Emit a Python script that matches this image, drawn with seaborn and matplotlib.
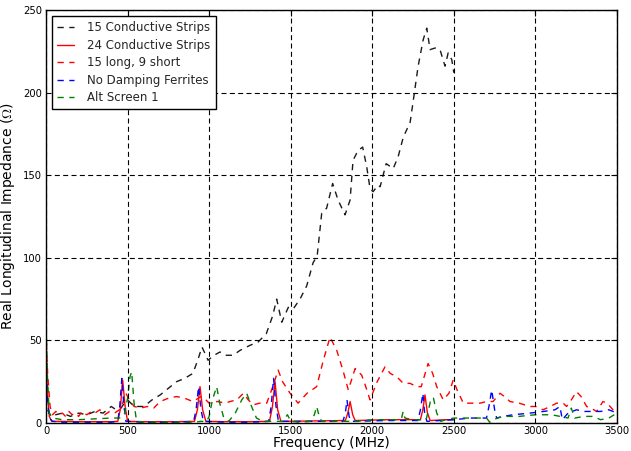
import matplotlib
matplotlib.use("Agg")
import matplotlib.pyplot as plt
import seaborn as sns
import numpy as np

# ---------------- data ----------------
f_black = [0, 10, 30, 60, 100, 150, 200, 250, 300, 350, 400, 430, 460, 480, 500, 530, 560, 600, 650,
           700, 750, 800, 850, 900, 930, 956, 975, 993, 1030, 1067, 1100, 1146, 1190, 1250, 1300, 1350,
           1390, 1414, 1445, 1485, 1515, 1557, 1598, 1637, 1662, 1690, 1720, 1757, 1790, 1833, 1864,
           1882, 1913, 1941, 1966, 1986, 2005, 2035, 2048, 2085, 2128, 2158, 2190, 2232, 2251, 2281,
           2312, 2334, 2354, 2385, 2415, 2446, 2465, 2487, 2500]
z_black = [15, 8, 4, 5, 6, 4, 6, 5, 7, 6, 10, 8, 9, 12, 14, 11, 10, 10, 14,
           17, 21, 25, 27, 30, 38, 46, 42, 38, 41, 43, 41, 41, 44, 47, 49, 54,
           65, 75, 61, 70, 69, 75, 83, 97, 101, 127, 130, 145, 135, 126, 135,
           159, 165, 167, 155, 142, 140, 144, 143, 157, 154, 161, 173, 182, 195, 216,
           232, 239, 226, 227, 226, 216, 224, 220, 212]

f_red_solid = [0, 8, 20, 35, 100, 200, 300, 400, 440, 455, 470, 485, 500, 600, 800, 910, 928, 944,
               960, 980, 1100, 1250, 1370, 1388, 1404, 1420, 1440, 1600, 1835, 1850, 1864, 1880,
               1895, 2100, 2295, 2310, 2323, 2338, 2355, 2450, 2500]
z_red_solid = [48, 20, 4, 1, 1, 0.8, 0.8, 0.8, 1, 8, 26, 10, 1, 0.8, 0.8, 1, 8, 22,
               8, 1, 0.8, 0.8, 1, 10, 25, 8, 1, 1.2, 1.5, 6, 13, 5,
               1.5, 2, 2, 8, 17, 6, 1.5, 2, 2]

f_red_dash = [0, 10, 25, 40, 60, 80, 100, 120, 140, 160, 180, 200, 220, 250, 280, 300, 330, 360, 390,
              420, 450, 470, 490, 510, 540, 580, 620, 660, 700, 750, 800, 850, 900, 950, 980, 1000,
              1050, 1100, 1128, 1170, 1210, 1240, 1270, 1310, 1353, 1390, 1423, 1450, 1496, 1545,
              1600, 1659, 1700, 1741, 1782, 1820, 1853, 1895, 1935, 1960, 1986, 2030, 2078, 2110,
              2150, 2190, 2232, 2270, 2300, 2342, 2370, 2395, 2435, 2470, 2496, 2520, 2558, 2600,
              2660, 2701, 2740, 2783, 2810, 2844, 2900, 2967, 3000, 3047, 3090, 3130, 3170, 3191,
              3220, 3252, 3280, 3314, 3340, 3375, 3414, 3440, 3475, 3500]
z_red_dash = [55, 30, 10, 5, 7, 5, 6, 4, 7, 5, 6, 4, 7, 5, 7, 6, 8, 5, 7,
              6, 8, 12, 18, 14, 10, 9, 10, 9, 13, 15, 16, 15, 13, 16, 14, 12,
              13, 12, 13, 14, 18, 14, 11, 12, 12, 22, 32, 25, 18, 12,
              18, 22, 38, 52, 44, 32, 20, 33, 29, 22, 14, 25, 34, 30,
              28, 24, 24, 22, 22, 36, 30, 22, 14, 18, 26, 20, 12, 12,
              12, 13, 13, 18, 16, 13, 12, 10, 10, 8, 10, 12, 12, 10,
              14, 19, 16, 10, 9, 7, 13, 12, 8, 6]

f_blue = [0, 8, 20, 40, 100, 200, 300, 400, 440, 452, 465, 478, 490, 600, 800, 905, 920, 935, 950,
          965, 1100, 1250, 1365, 1380, 1395, 1410, 1425, 1600, 1820, 1835, 1845, 1858, 1870, 2100,
          2280, 2295, 2310, 2322, 2335, 2500, 2600, 2700, 2715, 2732, 2750, 2762, 2800, 2865, 2967,
          3050, 3120, 3150, 3165, 3200, 3252, 3300, 3350, 3400, 3450, 3500]
z_blue = [45, 15, 3, 1, 0.5, 0.5, 0.5, 0.5, 1, 10, 27, 10, 1, 0.5, 0.5, 1, 8, 22, 8,
          1, 0.5, 0.5, 1, 10, 27, 10, 1, 1, 1, 6, 14, 4, 1, 1.5,
          1.5, 8, 18, 5, 1, 2, 3, 3, 10, 20, 8, 3, 4, 5, 6,
          7, 8, 10, 2, 6, 8, 7, 7, 7, 8, 6]

f_green = [0, 8, 20, 40, 100, 200, 300, 400, 450, 480, 500, 515, 525, 540, 555, 600, 700, 800, 900,
           950, 985, 1000, 1020, 1046, 1065, 1090, 1120, 1160, 1200, 1230, 1260, 1290, 1330, 1400,
           1450, 1480, 1500, 1550, 1620, 1645, 1659, 1675, 1690, 1800, 1900, 2000, 2150, 2180, 2189,
           2200, 2250, 2330, 2345, 2360, 2375, 2395, 2420, 2450, 2500, 2600, 2700, 2720, 2740, 2800,
           2900, 3000, 3100, 3150, 3200, 3220, 3240, 3300, 3350, 3400, 3450, 3500]
z_green = [65, 30, 6, 3, 2, 2, 2.5, 3, 3, 5, 15, 28, 31, 12, 1, 0.5, 0.5, 0.5, 0.5,
           1, 1, 4, 14, 22, 12, 3, 1, 6, 14, 18, 10, 3, 1, 1,
           1, 5, 1, 0.5, 1, 5, 10, 4, 1, 1, 1, 2, 2, 3, 7,
           3, 2, 2, 8, 15, 15, 6, 1, 2, 3, 3, 3, 0.5, 2, 4,
           4, 5, 5, 4, 3, 9, 3, 4, 4, 2, 3, 6]

labels = ["15 Conductive Strips", "24 Conductive Strips", "15 long, 9 short",
          "No Damping Ferrites", "Alt Screen 1"]
x_ticks = [0, 500, 1000, 1500, 2000, 2500, 3000, 3500]
y_ticks = [0, 50, 100, 150, 200, 250]

# ---------------- style ----------------
sns.set_theme(style="white")
plt.rcParams['font.family'] = ['DejaVu Sans']
plt.rcParams['mathtext.fontset'] = 'cm'
plt.rcParams['lines.dashed_pattern'] = [4.5, 4.0]

fig = plt.figure(figsize=(6.31, 4.51), dpi=100)
ax = fig.add_axes([46 / 631, 1 - 423 / 451, (617 - 46) / 631, (423 - 10) / 451])

series = [
    (f_black, z_black, "k", "--"),
    (f_red_solid, z_red_solid, "#ff0000", "-"),
    (f_red_dash, z_red_dash, "#ff0000", "--"),
    (f_blue, z_blue, "#0000ff", "--"),
    (f_green, z_green, "#008000", "--"),
]
for (fx, zy, c, ls), lab in zip(series, labels):
    sns.lineplot(x=fx, y=zy, ax=ax, color=c, linestyle=ls, linewidth=1.0,
                 label=lab, estimator=None, sort=False)

ax.set_xlim(0, 3500)
ax.set_ylim(0, 250)
ax.set_xticks(x_ticks)
ax.set_yticks(y_ticks)
ax.tick_params(direction="in", length=4, width=0.8, top=True, right=True,
               labelsize=7.2, colors="black")
ax.tick_params(axis="x", pad=2)
ax.tick_params(axis="y", pad=3)
for s in ax.spines.values():
    s.set_visible(True)
    s.set_color("black")
    s.set_linewidth(1.0)
ax.grid(True, color="black", linestyle=(0, (4.5, 3.0)), linewidth=0.8)
ax.set_axisbelow(False)
ax.set_xlabel("Frequency (MHz)", fontsize=10, color="black", labelpad=0)
ax.set_ylabel(r"Real Longitudinal Impedance ($\Omega$)", fontsize=10, color="black", labelpad=4)

leg = ax.legend(loc="upper left", fontsize=8.5, frameon=True, fancybox=False,
                framealpha=1, edgecolor="black", handlelength=1.45, handletextpad=1.1,
                borderaxespad=0.5, borderpad=0.45, labelspacing=0.38)
leg.get_frame().set_linewidth(1.0)

fig.savefig("out.png", dpi=100)
